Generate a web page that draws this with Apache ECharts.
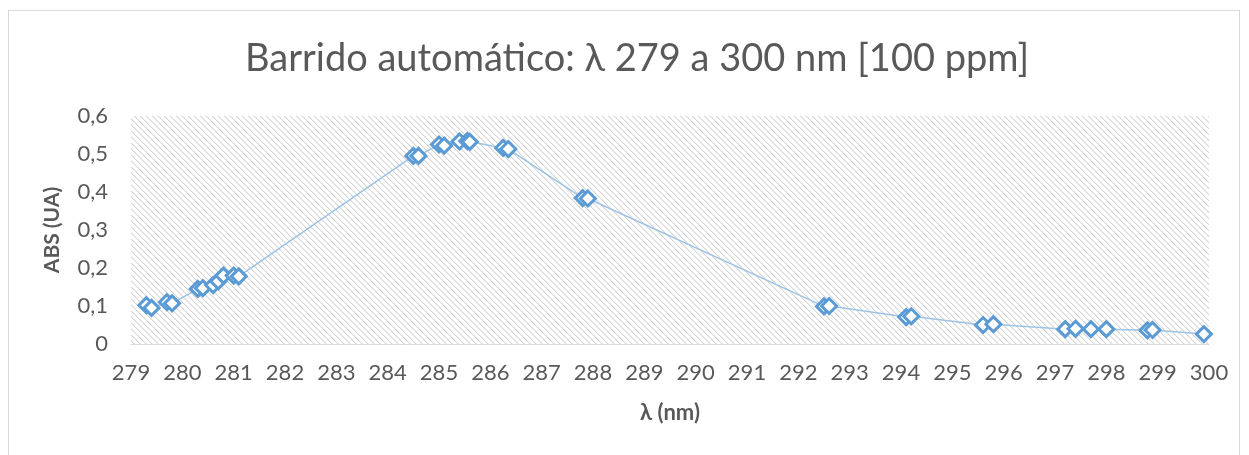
<!DOCTYPE html>
<html>
<head>
<meta charset="utf-8">
<script src="https://cdn.jsdelivr.net/npm/echarts@6/dist/echarts.min.js"></script>
<style>
html,body{margin:0;padding:0;background:#fff;}
#c{position:absolute;left:0;top:0;width:1249px;height:455px;}
#b{position:absolute;left:8px;top:10px;width:1232px;height:460px;border:1px solid #d9d9d9;box-sizing:border-box;pointer-events:none;}
</style>
</head>
<body>
<div id="b"></div>
<div id="c"></div>
<script>
// Wavelengths (nm) and absorbance
const wavelengths = [279.3, 279.4, 279.7, 279.8, 280.3, 280.4, 280.6, 280.7, 280.8, 281.0, 281.1,
  284.5, 284.6, 285.0, 285.1, 285.4, 285.55, 285.6, 286.25, 286.35, 287.8, 287.9,
  292.5, 292.6, 294.1, 294.2, 295.6, 295.8, 297.2, 297.4, 297.7, 298.0, 298.8, 298.9, 299.9];
const absorbance = [0.102, 0.095, 0.110, 0.107, 0.145, 0.147, 0.155, 0.165, 0.180, 0.180, 0.178,
  0.495, 0.495, 0.525, 0.522, 0.533, 0.534, 0.532, 0.516, 0.513, 0.384, 0.383,
  0.099, 0.100, 0.071, 0.073, 0.050, 0.052, 0.039, 0.040, 0.039, 0.039, 0.036, 0.037, 0.026];
const titleText = 'Barrido automático: λ 279 a 300 nm [100 ppm]';
const xName = 'λ (nm)';
const yName = 'ABS (UA)';

const points = wavelengths.map((w, i) => [w, absorbance[i]]);

// hatch pattern for plot background
const pc = document.createElement('canvas');
pc.width = 6; pc.height = 6;
const g = pc.getContext('2d');
g.fillStyle = '#ffffff'; g.fillRect(0, 0, 6, 6);
g.fillStyle = '#d6d6d6';
for (let i = 0; i < 6; i++) { g.fillRect(i, i, 1, 1); }
g.fillStyle = '#eeeeee';
for (let i = 0; i < 6; i++) { g.fillRect((i + 1) % 6, i, 1, 1); }

const chart = echarts.init(document.getElementById('c'), null, {renderer: 'canvas'});
const font = 'Lato, "Open Sans", sans-serif';
chart.setOption({
  animation: false,
  title: {
    text: titleText, left: 240, top: 35,
    textStyle: {fontFamily: font, fontSize: 38, fontWeight: 'normal', color: '#595959'}
  },
  grid: {
    left: 131, right: 40, top: 116, bottom: 111, show: true,
    borderWidth: 0, backgroundColor: {image: pc, repeat: 'repeat'}
  },
  xAxis: {
    type: 'value', min: 279, max: 300, interval: 1,
    name: xName, nameLocation: 'middle', nameGap: 58,
    nameTextStyle: {fontFamily: font, fontSize: 22, fontWeight: 'bold', color: '#595959'},
    axisLine: {show: true, lineStyle: {color: '#d9d9d9', width: 1}},
    axisTick: {show: false},
    splitLine: {show: false},
    axisLabel: {fontFamily: font, fontSize: 22, color: '#595959', margin: 18}
  },
  yAxis: {
    type: 'value', min: 0, max: 0.6, interval: 0.1,
    name: yName, nameLocation: 'middle', nameGap: 68,
    nameTextStyle: {fontFamily: font, fontSize: 21, fontWeight: 'bold', color: '#595959'},
    axisLine: {show: false}, axisTick: {show: false}, splitLine: {show: false},
    axisLabel: {fontFamily: font, fontSize: 22, color: '#595959', margin: 23,
      formatter: v => (Math.round(v * 10) / 10).toString().replace('.', ',')}
  },
  series: [{
    type: 'line', data: points,
    symbol: 'diamond', symbolSize: 15,
    lineStyle: {color: '#9dc3e6', width: 1.5},
    itemStyle: {color: '#ffffff', borderColor: '#5b9bd5', borderWidth: 3}
  }]
});
</script>
</body>
</html>
